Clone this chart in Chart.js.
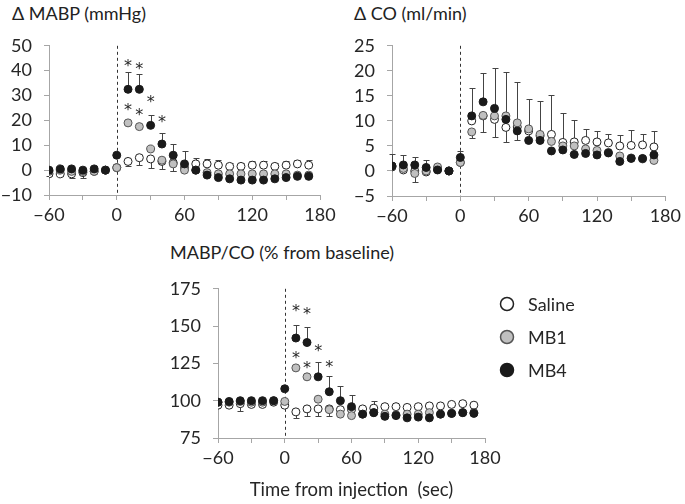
<!DOCTYPE html>
<html>
<head>
<meta charset="utf-8">
<script src="https://cdn.jsdelivr.net/npm/chart.js@4.4.1/dist/chart.umd.min.js"></script>
<style>
body{margin:0;background:#fff;width:685px;height:504px;position:relative;overflow:hidden;font-family:Lato,sans-serif;color:#222}
canvas{position:absolute}
.ttl{position:absolute;font-size:18px;white-space:nowrap;line-height:1}
</style>
</head>
<body>
<div class="ttl" style="left:12px;top:4px">Δ MABP (mmHg)</div>
<div class="ttl" style="left:354px;top:4px">Δ CO (ml/min)</div>
<div class="ttl" style="left:170px;top:243px">MABP/CO (% from baseline)</div>
<canvas id="c1" style="left:0;top:23px" width="340" height="202"></canvas>
<canvas id="c2" style="left:340px;top:23px" width="345" height="203"></canvas>
<canvas id="c3" style="left:150px;top:266px" width="535" height="238"></canvas>
<script>
// time points (sec)
let times = [-60,-50,-40,-30,-20,-10,0,10,20,30,40,50,60,70,80,90,100,110,120,130,140,150,160,170];

// Δ MABP
let mabpSaline = [-1.5,-1.5,-1.5,-1,-0.5,0,1,3.5,5,4.5,3.5,3,1,2.5,2.5,2,1.5,1.5,2,2,1.5,2,2.5,2];
let mabpSalineErr = [-1,-1,-1.5,-2,-0.5,0,0,-2,-3,-3.5,-3,-3.5,0,2.5,2,2,1.5,1.5,1.5,1.5,1.5,1.5,1.5,2];
let mabpMB1 = [-0.5,0,-0.5,-0.5,-0.5,0,1,19,17.5,8.5,4,2.5,0,0,-1,-1.5,-1.5,-1.5,-1.5,-1.5,-1.5,-1.5,-2,-2];
let mabpMB1Err = [0,0,0,0,0,0,0,0,0,0,0,-3,0,0,0,0,0,0,0,0,0,0,0,0];
let mabpMB4 = [0,0.5,0.5,0,0.5,0,6,32.5,32.5,18,10.5,6,2.5,0,-2,-3,-3.5,-4,-4,-4,-3.5,-3,-2.5,-2.5];
let mabpMB4Err = [0,0,0,0,0,0,0,7,6,4,4.5,4.5,5,0,0,0,0,0,0,0,0,0,0,0];
let mabpStarX = [10,20,30,40,10,20];
let mabpStarY = [43,42,28.5,20.5,25.5,23.5];

// Δ CO
let coSaline = [0.8,0.2,0,-0.2,0.3,0,1.7,10,11,10.3,8.7,8.8,8,7,7.3,5.7,5.8,6.1,5.8,5.6,5,5.1,5.2,4.8];
let coSalineErr = [0,0,0,0,0,0,0,0,-3.2,-3.5,-3,-2.6,0,0,7.8,5.8,4.3,2.3,2.1,1.8,2.2,3,2.1,3.1];
let coMB1 = [1,0.5,-0.5,0,0.8,0,1.7,7.8,11.1,11,11,9.6,8.4,7.3,5.9,5,5,4.4,4.1,3.7,3,2.6,2.4,2.1];
let coMB1Err = [0,0,-1.8,0,0,0,0,-1.3,0,0,0,0,0,0,0,0,0,0,0,0,0,0,0,0];
let coMB4 = [1,1.2,1.2,0.7,0.2,0,2.7,11,13.8,12.5,10.3,8,6.1,6.1,4,4.2,3.3,3.5,3.2,3.6,1.9,2.5,2.5,3.2];
let coMB4Err = [2.3,1.9,1.6,1.4,0,0,1.3,5.6,5.7,8,9.5,9.7,8.2,7.9,0,0,0,0,0,0,0,0,0,0];

// MABP/CO (% from baseline)
let ratioSaline = [97,97,98,97.5,97.5,99,97,92.5,94.5,94.5,94.5,94,94,94.5,95,96,96,95.5,96,96.5,96.5,97.5,98,97];
let ratioSalineErr = [0,0,-5,0,0,0,0,-4,-4.5,-5,-4.5,0,0,0,5,0,0,0,0,0,0,0,0,0];
let ratioMB1 = [99,99,99.5,99,99,100,99.5,122,116,101,94,91,90,91,92,91,90.5,91,91,92,91,91.5,92,92];
let ratioMB1Err = [0,0,0,0,0,0,0,0,0,0,0,0,0,0,0,0,0,0,0,0,0,0,0,0];
let ratioMB4 = [99,99.5,100,100,100,100,108,142,139,116,106,100,96,91,92,89.5,90,88.5,89,88.5,91,91.5,92,91.5];
let ratioMB4Err = [0,0,0,0,0,0,0,9,10.5,10,10.5,10,8,0,0,0,0,0,0,0,0,0,0,0];
let ratioStarX = [10,20,30,40,10,20];
let ratioStarY = [162.5,160,135.5,124.5,131,124];

let seriesNames = ['Saline','MB1','MB4'];
let fills = ['#ffffff','#c0c0c0','#1a1a1a'];
let edges = ['#222222','#555555','#1a1a1a'];

let axisCol = '#a6a6a6';
let txtCol = '#262626';
let tickFont = {family:'Lato', size:18};

function fmt(v){ return v < 0 ? '\u2212' + Math.abs(v) : '' + v; }

function mkDs(vals, err, k){
    return {
        label: seriesNames[k],
        data: times.map((t,i) => ({x:t, y:vals[i]})),
        err: err,
        showLine: false,
        pointRadius: 4,
        pointHoverRadius: 4,
        pointBorderWidth: 1,
        pointBackgroundColor: fills[k],
        pointBorderColor: edges[k]
    };
}

let marks = {
    id: 'marks',
    beforeDatasetsDraw(chart){
        let {ctx, chartArea} = chart;
        let xs = chart.scales.x, ys = chart.scales.y;
        ctx.save();
        // dashed injection line
        ctx.strokeStyle = '#333';
        ctx.lineWidth = 1;
        ctx.setLineDash([3,3]);
        let x0 = Math.round(xs.getPixelForValue(0)) + 0.5;
        ctx.beginPath();
        ctx.moveTo(x0, chartArea.top);
        ctx.lineTo(x0, chartArea.bottom);
        ctx.stroke();
        ctx.setLineDash([]);
        // one-sided error bars
        ctx.strokeStyle = '#444';
        chart.data.datasets.forEach(ds => {
            ds.data.forEach((p, j) => {
                let e = ds.err[j];
                if (!e) return;
                let px = Math.round(xs.getPixelForValue(p.x)) + 0.5;
                let py0 = ys.getPixelForValue(p.y);
                let py1 = Math.round(ys.getPixelForValue(p.y + e)) + 0.5;
                ctx.beginPath();
                ctx.moveTo(px, py0);
                ctx.lineTo(px, py1);
                ctx.moveTo(px - 3, py1);
                ctx.lineTo(px + 3, py1);
                ctx.stroke();
            });
        });
        ctx.restore();
    },
    afterDatasetsDraw(chart, args, opts){
        if (!opts.starX) return;
        let {ctx} = chart;
        let xs = chart.scales.x, ys = chart.scales.y;
        ctx.save();
        ctx.fillStyle = txtCol;
        ctx.font = '16px "DejaVu Sans"';
        ctx.textAlign = 'center';
        ctx.textBaseline = 'middle';
        opts.starX.forEach((sx, i) => {
            ctx.fillText('*', xs.getPixelForValue(sx), ys.getPixelForValue(opts.starY[i]) + 4);
        });
        ctx.restore();
    },
    afterDraw(chart, args, opts){
        if (!opts.legend) return;
        let {ctx} = chart;
        ctx.save();
        ctx.font = '18px Lato';
        ctx.textBaseline = 'middle';
        for (let k = 0; k < seriesNames.length; k++) {
            let y = opts.legend.y + k * opts.legend.gap;
            ctx.beginPath();
            ctx.arc(opts.legend.x, y, 6.5, 0, Math.PI * 2);
            ctx.fillStyle = fills[k];
            ctx.fill();
            ctx.lineWidth = 1.5;
            ctx.strokeStyle = edges[k];
            ctx.stroke();
            ctx.fillStyle = txtCol;
            ctx.fillText(seriesNames[k], opts.legend.x + 21, y + 1);
        }
        ctx.restore();
    }
};

function makeChart(id, sets, yMin, yMax, yStep, yW, pad, xH, extra){
    let xTitle = extra.xTitle || null;
    return new Chart(document.getElementById(id), {
        type: 'scatter',
        data: {datasets: [mkDs(sets[2], sets[5], 2), mkDs(sets[1], sets[4], 1), mkDs(sets[0], sets[3], 0)]},
        options: {
            responsive: false,
            animation: false,
            events: [],
            layout: {padding: pad},
            plugins: {
                legend: {display: false},
                tooltip: {enabled: false},
                marks: extra
            },
            scales: {
                x: {
                    type: 'linear', min: -60, max: 180,
                    ticks: {stepSize: 30, autoSkip: false, maxRotation: 0, padding: 4, color: txtCol, font: tickFont,
                        callback: v => v % 60 === 0 ? fmt(v) : ''},
                    grid: {drawOnChartArea: false, tickLength: 5, color: axisCol},
                    border: {color: axisCol},
                    title: xTitle ? {display: true, text: xTitle, color: txtCol, font: {family:'Lato', size:18.5}, padding: {top: 0, bottom: 3}} : {display: false},
                    afterFit: s => { s.height = xH; }
                },
                y: {
                    min: yMin, max: yMax,
                    ticks: {stepSize: yStep, padding: 12, color: txtCol, font: tickFont, callback: v => fmt(v)},
                    grid: {drawOnChartArea: false, tickLength: 5, color: axisCol},
                    border: {color: axisCol},
                    afterFit: s => { s.width = yW; }
                }
            }
        },
        plugins: [marks]
    });
}

makeChart('c1', [mabpSaline, mabpMB1, mabpMB4, mabpSalineErr, mabpMB1Err, mabpMB4Err],
    -10, 50, 10, 49, {top: 12, right: 20, left: 0, bottom: 0}, 30,
    {starX: mabpStarX, starY: mabpStarY});

makeChart('c2', [coSaline, coMB1, coMB4, coSalineErr, coMB1Err, coMB4Err],
    -5, 25, 5, 52, {top: 12, right: 17, left: 0, bottom: 0}, 30, {});

makeChart('c3', [ratioSaline, ratioMB1, ratioMB4, ratioSalineErr, ratioMB1Err, ratioMB4Err],
    75, 175, 25, 68, {top: 12, right: 200, left: 0, bottom: 0}, 66,
    {starX: ratioStarX, starY: ratioStarY, xTitle: 'Time from injection  (sec)', legend: {x: 357, y: 38, gap: 33}});
</script>
</body>
</html>
